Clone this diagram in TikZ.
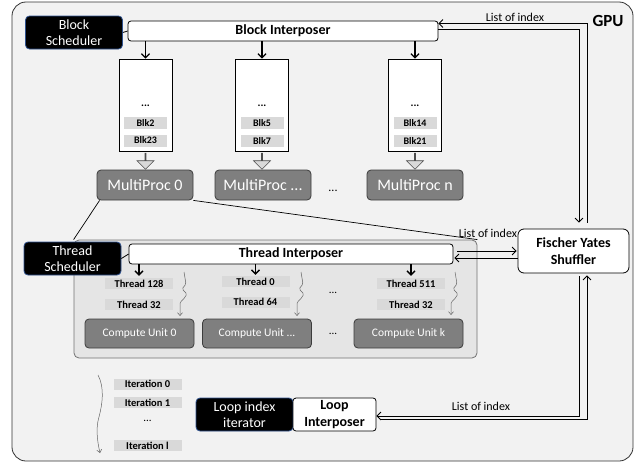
\documentclass[tikz,border=0pt]{standalone}
\usepackage{fontspec}
\setmainfont{Carlito}
\usetikzlibrary{arrows.meta,shapes.arrows}

\definecolor{gpubg}{RGB}{242,242,242}
\definecolor{areabg}{RGB}{229,229,229}
\definecolor{procgray}{RGB}{127,127,127}
\definecolor{procedge}{RGB}{60,60,60}
\definecolor{tagbg}{RGB}{217,217,217}
\definecolor{schededge}{RGB}{47,82,143}

\begin{document}
\begin{tikzpicture}[x=1pt, y=-1pt,
    gpuframe/.style={rectangle, rounded corners=14pt, draw=black!80, fill=gpubg,
        line width=0.8pt, minimum width=621pt, minimum height=459pt},
    area/.style={rectangle, rounded corners=5pt, draw=black!55, fill=areabg,
        line width=0.8pt, minimum width=403pt, minimum height=118pt},
    sched/.style={rectangle, rounded corners=4pt, fill=black, draw=schededge,
        line width=0.8pt, text=white, align=center, inner sep=1pt,
        minimum width=97pt, minimum height=33pt, font=\fontsize{14}{16.5}\selectfont},
    interp/.style={rectangle, rounded corners=3pt, fill=white, draw=black,
        line width=0.8pt, inner sep=1pt, minimum height=20pt,
        font=\bfseries\fontsize{14}{17}\selectfont},
    queue/.style={rectangle, fill=white, draw=black, line width=0.8pt,
        minimum width=53pt, minimum height=92pt},
    tag/.style={rectangle, fill=tagbg, inner sep=0pt, minimum width=43pt,
        minimum height=12pt, font=\bfseries\fontsize{10}{12}\selectfont},
    ttag/.style={tag, minimum width=68pt, minimum height=11pt,
        font=\bfseries\fontsize{10.5}{12}\selectfont},
    proc/.style={rectangle, rounded corners=4pt, fill=procgray, draw=procedge,
        line width=0.8pt, text=white, minimum width=96pt, minimum height=30pt,
        font=\fontsize{16}{18}\selectfont},
    unit/.style={proc, minimum width=109pt, minimum height=29pt,
        font=\fontsize{11.5}{14}\selectfont},
    hollow/.style={single arrow, shape border rotate=270, draw=black!70,
        fill=tagbg, line width=0.6pt, inner sep=0pt, minimum height=16pt,
        minimum width=17pt, single arrow head extend=5pt},
    dots/.style={font=\bfseries\fontsize{11}{12}\selectfont},
    note/.style={font=\fontsize{12}{14}\selectfont},
    push/.style={line width=1.3pt, -{Straight Barb[length=4pt,width=8pt]}},
    link/.style={line width=0.8pt},
    wiggle/.style={draw=black!60, line width=0.5pt, rounded corners=1.5pt,
        -{Straight Barb[length=3pt,width=5pt]}},
    zoomline/.style={line width=0.7pt}
]
    \useasboundingbox (0,0) rectangle (637,463);
    \node[gpuframe] (gpu) at (322.5,231.5) {};
    \node[font=\bfseries\fontsize{17}{20}\selectfont] (gpulbl) at (608,21) {GPU};

    % block level
    \node[sched] (bs) at (74,32.5) {Block\\Scheduler};
    \node[interp, minimum width=310pt] (bi) at (283,31) {Block Interposer};
    \draw[link] (bs.east) -- (bi.west);

    \node[queue] (q1) at (145.5,105) {};
    \node[queue] (q2) at (262,105) {};
    \node[queue] (q3) at (415,105) {};
    \node[dots] (q1d) at (145.5,106) {...};
    \node[dots] (q2d) at (262,106) {...};
    \node[dots] (q3d) at (415,106) {...};
    \node[tag] (q1a) at (145.5,123) {Blk2};
    \node[tag] (q1b) at (145.5,140.5) {Blk23};
    \node[tag] (q2a) at (262,123) {Blk5};
    \node[tag] (q2b) at (262,140.5) {Blk7};
    \node[tag] (q3a) at (415,123) {Blk14};
    \node[tag] (q3b) at (415,140.5) {Blk21};
    \draw[push] (q1.north |- bi.south) -- (q1.north);
    \draw[push] (q2.north |- bi.south) -- (q2.north);
    \draw[push] (q3.north |- bi.south) -- (q3.north);

    \node[proc] (mp0) at (145,185) {MultiProc 0};
    \node[proc] (mp1) at (263,185) {MultiProc ...};
    \node[proc] (mpn) at (415,185) {MultiProc n};
    \node[font=\fontsize{12}{14}\selectfont] (mpd) at (333,191) {...};
    \node[hollow] (h1) at (145.5,161) {};
    \node[hollow] (h2) at (262,161) {};
    \node[hollow] (h3) at (415,161) {};

    % thread level
    \node[area] (ta) at (275.5,299) {};
    \draw[zoomline] ([xshift=3pt]mp0.south west) -- (ta.north west);
    \draw[zoomline] (mp0.south east) -- (ta.north east);
    \node[sched] (ts) at (72.5,258.5) {Thread\\Scheduler};
    \node[interp, minimum width=324pt] (ti) at (291,254) {Thread Interposer};
    \draw[link] (ts.east) -- (ti.west);

    \node[ttag] (t1a) at (139,283.5) {Thread 128};
    \node[ttag] (t1b) at (139,304.5) {Thread 32};
    \node[ttag] (t2a) at (255.5,281.5) {Thread 0};
    \node[ttag] (t2b) at (255.5,302) {Thread 64};
    \node[ttag] (t3a) at (411,283.5) {Thread 511};
    \node[ttag] (t3b) at (411,304.5) {Thread 32};
    \node[font=\fontsize{11}{12}\selectfont] (td) at (333,293) {...};
    \draw[push] (t1a.north |- ti.south) -- ([yshift=2pt]t1a.north);
    \draw[push] (t2a.north |- ti.south) -- ([yshift=1pt]t2a.north);
    \draw[push] (t3a.north |- ti.south) -- ([yshift=2pt]t3a.north);

    \coordinate (w1a) at (184,272);
    \coordinate (w1b) at (180,316);
    \coordinate (w2a) at (301,272);
    \coordinate (w2b) at (297,316);
    \coordinate (w3a) at (455,272);
    \coordinate (w3b) at (451,315);
    \draw[wiggle] (w1a) -- ++(2,12) -- ++(-4,5) -- ++(5,5) -- ++(-4,6) -- ++(-3,2) -- (w1b);
    \draw[wiggle] (w2a) -- ++(2,12) -- ++(-4,5) -- ++(5,5) -- ++(-4,6) -- ++(-3,2) -- (w2b);
    \draw[wiggle] (w3a) -- ++(2,12) -- ++(-4,5) -- ++(5,5) -- ++(-4,6) -- ++(-3,2) -- (w3b);

    \node[unit] (cu0) at (139.5,333.5) {Compute Unit 0};
    \node[unit] (cu1) at (257,333.5) {Compute Unit ...};
    \node[unit] (cuk) at (408.5,333.5) {Compute Unit k};
    \node[font=\fontsize{11}{12}\selectfont] (cud) at (333,334) {...};

    % loop level
    \node[ttag] (it0) at (147.5,384) {Iteration 0};
    \node[ttag] (it1) at (147.5,402.5) {Iteration 1};
    \node[font=\fontsize{11}{12}\selectfont] (itd) at (147.5,421) {...};
    \node[ttag] (itl) at (147.5,445.5) {Iteration l};
    \coordinate (ita) at (98,375);
    \coordinate (itb) at (100,453);
    \draw[wiggle] (ita) .. controls (105,388) and (102,405) .. (99,417)
        .. controls (96,428) and (97,440) .. (itb);

    \node[sched] (lp) at (244.5,414.5) {Loop index\\iterator};
    \node[interp, minimum width=83pt, minimum height=33pt, align=center] (li) at (334.5,414.5) {Loop\\Interposer};

    % shuffler
    \node[interp, minimum width=111pt, minimum height=44pt, rounded corners=6pt,
        align=center] (fys) at (573.5,251) {Fischer Yates\\Shuffler};
    \draw[link, {Straight Barb[length=4pt,width=8pt]}-] ([yshift=7.5pt]bi.east) -| ([xshift=13.5pt,yshift=6pt]fys.north);
    \draw[link, -{Straight Barb[length=4pt,width=8pt]}] ([yshift=2pt]bi.east) -| ([xshift=5.5pt,yshift=6pt]fys.north);
    \draw[link, -{Straight Barb[length=4pt,width=8pt]}, shorten <=4pt, shorten >=1pt] ([yshift=3pt]ti.east) -- (fys.west);
    \draw[link, -{Straight Barb[length=4pt,width=8pt]}, shorten >=1pt] ([yshift=-7pt]fys.west) -- ([yshift=-4pt]ti.east);
    \draw[link, -{Straight Barb[length=4pt,width=8pt]}] ([xshift=5.5pt,yshift=-3pt]fys.south) |- ([yshift=-1.5pt]li.east);
    \draw[link, -{Straight Barb[length=4pt,width=8pt]}] ([yshift=-5pt,xshift=5pt]li.east) -| ([xshift=13.5pt,yshift=-2pt]fys.south);
    \node[note] (lbl1) at (515,17) {List of index};
    \node[note] (lbl2) at (488,233) {List of index};
    \node[note] (lbl3) at (481,406) {List of index};
\end{tikzpicture}
\end{document}
